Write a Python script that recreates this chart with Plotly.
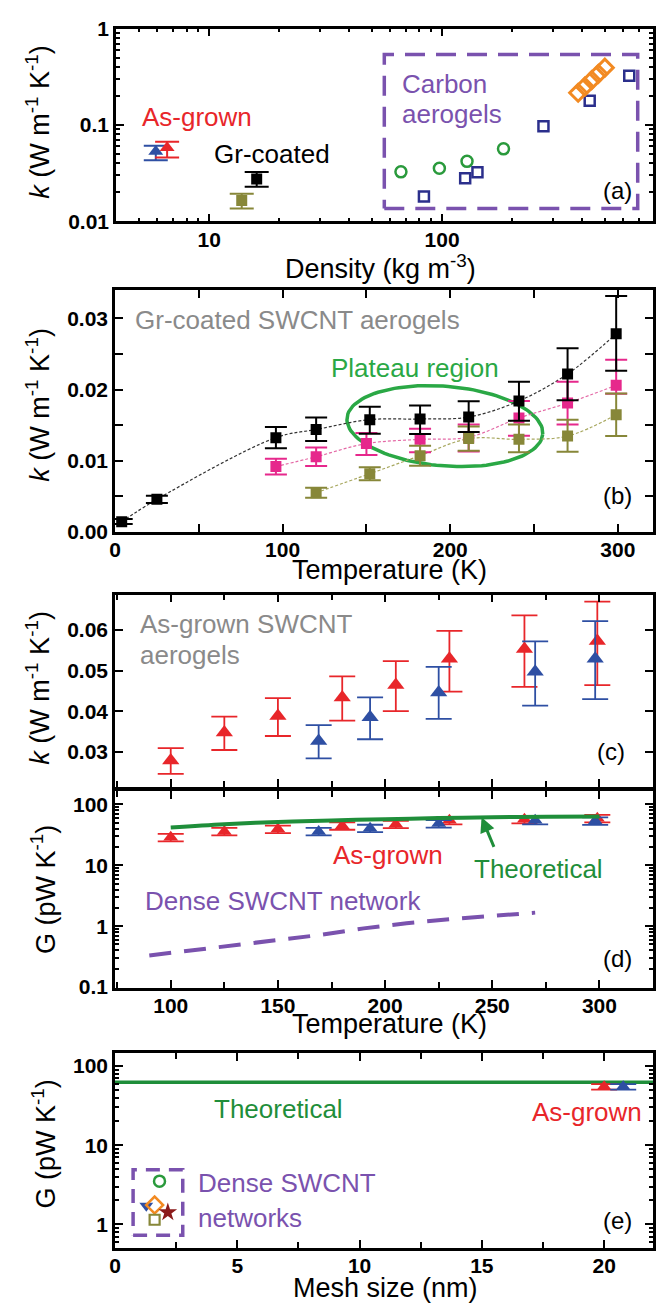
import plotly.graph_objects as go
import numpy as np

W, H = 659, 1314
FONT = "Liberation Sans, Arial, sans-serif"

# ---------------- colours ----------------
RED = "#e8262a"
BLUE = "#2e4fa3"
NAVY = "#2b2f8c"
OLIVE = "#878739"
MAGENTA = "#e6288c"
GREEN_M = "#2a9a3c"
ORANGE = "#f28a22"
PURPLE = "#7a52ae"
GREEN_L = "#1f8e3a"
GREEN_E = "#2aa845"
GRAY = "#8a8a8a"
DARKRED = "#8b1a1a"

# ---------------- data: panel (a) ----------------
a_agblue_rho = [5.9]
a_agblue_k = [0.053]
a_agblue_ep = [0.008]
a_agblue_em = [0.010]
a_agred_rho = [6.6]
a_agred_k = [0.058]
a_agred_ep = [0.009]
a_agred_em = [0.012]
a_grblack_rho = [16.0]
a_grblack_k = [0.0275]
a_grblack_ep = [0.0049]
a_grblack_em = [0.0047]
a_grolive_rho = [13.8]
a_grolive_k = [0.0164]
a_grolive_ep = [0.0029]
a_grolive_em = [0.0028]
a_circ_rho = [66.6, 97.4, 128, 183.6]
a_circ_k = [0.0326, 0.0356, 0.0419, 0.0565]
a_sq_rho = [83.6, 125.7, 141.9, 272.5, 430.5, 636.5]
a_sq_k = [0.0181, 0.0279, 0.0322, 0.097, 0.179, 0.324]
a_dia_rho = [384, 410, 439, 469, 500]
a_dia_k = [0.216, 0.25, 0.292, 0.34, 0.394]
a_box_rho = [56.5, 692]
a_box_k = [0.0136, 0.539]

# ---------------- data: panel (b) ----------------
b_black_T = [4, 25, 96, 120, 152, 182, 211, 241, 270, 299]
b_black_k = [0.0014, 0.00456, 0.01324, 0.01438, 0.01577, 0.01586, 0.01614, 0.0184, 0.0222, 0.02785]
b_black_ep = [0.0004, 0.0005, 0.0015, 0.0017, 0.0018, 0.0019, 0.0022, 0.0027, 0.0036, 0.0053]
b_black_em = [0.0003, 0.0005, 0.0015, 0.0016, 0.0020, 0.0021, 0.0021, 0.0028, 0.0037, 0.0052]
b_mag_T = [96, 120, 150, 182, 211, 241, 270, 299]
b_mag_k = [0.00917, 0.01055, 0.0124, 0.0130, 0.0133, 0.0160, 0.0181, 0.0206]
b_mag_ep = [0.0011, 0.0013, 0.0015, 0.0015, 0.0018, 0.0024, 0.0030, 0.0036]
b_mag_em = [0.0011, 0.0013, 0.0016, 0.0018, 0.0020, 0.0025, 0.0030, 0.0012]
b_olive_T = [120, 152, 182, 211, 241, 270, 299]
b_olive_k = [0.00549, 0.00816, 0.0107, 0.0131, 0.0130, 0.01346, 0.01646]
b_olive_ep = [0.0007, 0.0009, 0.0014, 0.0017, 0.0021, 0.0023, 0.0030]
b_olive_em = [0.0007, 0.0009, 0.0014, 0.0017, 0.0018, 0.0022, 0.0030]
# "Plateau region" ellipse: centre (T, k), half-axes (K, W/mK), tilt (deg)
b_ell_center = (196.8, 0.01486)
b_ell_half = (58.6, 0.0056)
b_ell_tilt_deg = -4.8

# ---------------- data: panel (c) ----------------
c_red_T = [100, 125, 150, 180, 205, 230, 265, 299]
c_red_k = [0.0279, 0.03475, 0.0388, 0.04337, 0.04644, 0.0529, 0.0553, 0.0573]
c_red_ep = [0.0030, 0.0039, 0.0044, 0.0052, 0.0059, 0.0069, 0.0083, 0.0097]
c_red_em = [0.0033, 0.0043, 0.0049, 0.0057, 0.0064, 0.0081, 0.0093, 0.0109]
c_blue_T = [169, 193, 225, 270, 298]
c_blue_k = [0.0327, 0.0385, 0.0446, 0.0497, 0.0529]
c_blue_ep = [0.0039, 0.0049, 0.0063, 0.0075, 0.0093]
c_blue_em = [0.0043, 0.0054, 0.0065, 0.0083, 0.0099]

# ---------------- data: panel (d) ----------------
d_red_T = [100, 125, 150, 180, 205, 230, 265, 299]
d_red_G = [28.9, 36.1, 39.4, 44.7, 47.4, 55.0, 57.1, 59.3]
d_blue_T = [169, 193, 225, 270, 298]
d_blue_G = [36.1, 40.8, 48.6, 55.0, 53.8]
d_theo_T = [100, 125, 150, 175, 200, 225, 250, 275, 300]
d_theo_G = [41.9, 47.5, 51.8, 54.8, 57.2, 59.8, 61.8, 62.8, 63.3]
d_dense_T = [90, 110, 130, 150, 170, 190, 210, 230, 250, 270]
d_dense_G = [0.33, 0.40, 0.49, 0.58, 0.72, 0.92, 1.12, 1.30, 1.47, 1.67]

# ---------------- data: panel (e) ----------------
e_theo_mesh = [0, 22]
e_theo_G = [62.5, 62.5]
e_red_mesh = [20.0]
e_red_G = [54.7]
e_blue_mesh = [20.78]
e_blue_G = [54.7]
e_circ = ([1.82], [3.51])
e_tri = ([1.28], [1.71])
e_dia = ([1.62], [1.75])
e_star = ([2.16], [1.42])
e_sq = ([1.62], [1.14])
e_box_mesh = [0.74, 2.77]
e_box_G = [0.728, 4.9]


def rect(xs, ys):
    return [xs[0], xs[1], xs[1], xs[0], xs[0]], [ys[0], ys[0], ys[1], ys[1], ys[0]]


fig = go.Figure()


def add(xa, ya, **kw):
    kw.setdefault("showlegend", False)
    kw.setdefault("hoverinfo", "skip")
    fig.add_trace(go.Scatter(xaxis=xa, yaxis=ya, **kw))


def errbar(ep, em, color, width=11, thick=2):
    return dict(type="data", array=ep, arrayminus=em, color=color, thickness=thick, width=width, visible=True)


# ---------- panel (a) ----------
bx, by = rect(a_box_rho, a_box_k)
add("x", "y", x=bx, y=by, mode="lines", line=dict(color=PURPLE, width=3.5, dash="20px,11px"))
add("x", "y", x=a_circ_rho, y=a_circ_k, mode="markers",
    marker=dict(symbol="circle-open", size=11, line=dict(width=2.5, color=GREEN_M), color=GREEN_M))
add("x", "y", x=a_sq_rho, y=a_sq_k, mode="markers",
    marker=dict(symbol="square-open", size=10, line=dict(width=2.5, color=NAVY), color=NAVY))
add("x", "y", x=a_dia_rho, y=a_dia_k, mode="markers",
    marker=dict(symbol="diamond-open", size=13, line=dict(width=3, color=ORANGE), color=ORANGE))
add("x", "y", x=a_grolive_rho, y=a_grolive_k, mode="markers",
    marker=dict(symbol="square", size=11, color=OLIVE),
    error_y=errbar(a_grolive_ep, a_grolive_em, OLIVE, 12))
add("x", "y", x=a_grblack_rho, y=a_grblack_k, mode="markers",
    marker=dict(symbol="square", size=11, color="black"),
    error_y=errbar(a_grblack_ep, a_grblack_em, "black", 12))
add("x", "y", x=a_agblue_rho, y=a_agblue_k, mode="markers",
    marker=dict(symbol="triangle-up", size=13, color=BLUE),
    error_y=errbar(a_agblue_ep, a_agblue_em, BLUE, 12))
add("x", "y", x=a_agred_rho, y=a_agred_k, mode="markers",
    marker=dict(symbol="triangle-up", size=13, color=RED),
    error_y=errbar(a_agred_ep, a_agred_em, RED, 12))

# ---------- panel (b) ----------
# tilted ellipse drawn in data units of panel (b); the px-per-unit ratio keeps the tilt visual
_sx = 543 / 321.0      # px per K
_sy = 246 / 0.034      # px per (W/mK)
_t = np.linspace(0, 2 * np.pi, 121)
_a = b_ell_half[0] * _sx
_b = b_ell_half[1] * _sy
_th = np.deg2rad(b_ell_tilt_deg)
_px = _a * np.cos(_t) * np.cos(_th) - _b * np.sin(_t) * np.sin(_th)
_py = _a * np.cos(_t) * np.sin(_th) + _b * np.sin(_t) * np.cos(_th)
ell_T = b_ell_center[0] + _px / _sx
ell_k = b_ell_center[1] + _py / _sy
add("x2", "y2", x=ell_T, y=ell_k, mode="lines", line=dict(color=GREEN_E, width=3.5))

add("x2", "y2", x=b_black_T, y=b_black_k, mode="lines", line=dict(color="#333333", width=1.2, dash="3px,2px", shape="spline"))
add("x2", "y2", x=b_mag_T, y=b_mag_k, mode="lines", line=dict(color="#e46aa6", width=1.2, dash="3px,2px", shape="spline"))
add("x2", "y2", x=b_olive_T, y=b_olive_k, mode="lines", line=dict(color="#a8a860", width=1.2, dash="3px,2px", shape="spline"))
add("x2", "y2", x=b_mag_T, y=b_mag_k, mode="markers",
    marker=dict(symbol="square", size=11, color=MAGENTA),
    error_y=errbar(b_mag_ep, b_mag_em, MAGENTA, 11))
add("x2", "y2", x=b_olive_T, y=b_olive_k, mode="markers",
    marker=dict(symbol="square", size=11, color=OLIVE),
    error_y=errbar(b_olive_ep, b_olive_em, OLIVE, 11))
add("x2", "y2", x=b_black_T, y=b_black_k, mode="markers",
    marker=dict(symbol="square", size=11, color="black"),
    error_y=errbar(b_black_ep, b_black_em, "black", 11))

# ---------- panel (c) ----------
add("x3", "y3", x=c_red_T, y=c_red_k, mode="markers",
    marker=dict(symbol="triangle-up", size=15, color=RED),
    error_y=errbar(c_red_ep, c_red_em, RED, 13, 1.8))
add("x3", "y3", x=c_blue_T, y=c_blue_k, mode="markers",
    marker=dict(symbol="triangle-up", size=15, color=BLUE),
    error_y=errbar(c_blue_ep, c_blue_em, BLUE, 13, 1.8))

# ---------- panel (d) ----------
add("x4", "y4", x=d_dense_T, y=d_dense_G, mode="lines", line=dict(color=PURPLE, width=4, dash="22px,13px"))
add("x4", "y4", x=d_red_T, y=d_red_G, mode="markers",
    marker=dict(symbol="triangle-up", size=13, color=RED),
    error_y=dict(type="percent", value=14, color=RED, thickness=1.8, width=13))
add("x4", "y4", x=d_blue_T, y=d_blue_G, mode="markers",
    marker=dict(symbol="triangle-up", size=13, color=BLUE),
    error_y=dict(type="percent", value=14, color=BLUE, thickness=1.8, width=13))
add("x4", "y4", x=d_theo_T, y=d_theo_G, mode="lines", line=dict(color=GREEN_L, width=4, shape="spline"))

# ---------- panel (e) ----------
ex, ey = rect(e_box_mesh, e_box_G)
add("x5", "y5", x=ex, y=ey, mode="lines", line=dict(color=PURPLE, width=3.5, dash="14px,9px"))
add("x5", "y5", x=e_theo_mesh, y=e_theo_G, mode="lines", line=dict(color=GREEN_L, width=3.5))
add("x5", "y5", x=e_red_mesh, y=e_red_G, mode="markers",
    marker=dict(symbol="triangle-up", size=13, color=RED),
    error_y=dict(type="percent", value=8, color=RED, thickness=1.8, width=13))
add("x5", "y5", x=e_blue_mesh, y=e_blue_G, mode="markers",
    marker=dict(symbol="triangle-up", size=13, color=BLUE),
    error_y=dict(type="percent", value=8, color=BLUE, thickness=1.8, width=13))
add("x5", "y5", x=e_circ[0], y=e_circ[1], mode="markers",
    marker=dict(symbol="circle-open", size=11, line=dict(width=2.5, color=GREEN_M), color=GREEN_M))
add("x5", "y5", x=e_tri[0], y=e_tri[1], mode="markers",
    marker=dict(symbol="triangle-down", size=12, color=BLUE))
add("x5", "y5", x=e_dia[0], y=e_dia[1], mode="markers",
    marker=dict(symbol="diamond-open", size=13, line=dict(width=2.5, color=ORANGE), color=ORANGE))
add("x5", "y5", x=e_star[0], y=e_star[1], mode="markers",
    marker=dict(symbol="star", size=14, color=DARKRED))
add("x5", "y5", x=e_sq[0], y=e_sq[1], mode="markers",
    marker=dict(symbol="square-open", size=10, line=dict(width=2.2, color=OLIVE), color=OLIVE))

# ---------- axes ----------


def axis(domain, anchor, **kw):
    d = dict(domain=domain, anchor=anchor, showline=True, linecolor="black", linewidth=2.5,
             mirror="allticks", ticks="inside", ticklen=8, tickwidth=2, tickcolor="black",
             showgrid=False, zeroline=False, fixedrange=True,
             tickfont=dict(family=FONT, size=21, color="black", weight=700))
    d.update(kw)
    return d


def minor(dt, ln=4):
    return dict(ticks="inside", ticklen=ln, tickwidth=2, tickcolor="black", dtick=dt, showgrid=False)


XD = [110 / W, 653 / W]


def yd(top, bot):
    return [1 - bot / H, 1 - top / H]


fig.update_layout(
    xaxis=axis([111 / W, 653 / W], "y", type="log", range=[0.6, 2.906],
               tickvals=[10, 100], ticktext=["10", "100"], minor=minor("D1"), ticklabelstandoff=-2),
    yaxis=axis(yd(17, 213), "x", type="log", range=[-2, 0],
               tickvals=[0.01, 0.1, 1], ticktext=["0.01", "0.1", "1"], minor=minor("D1")),
    xaxis2=axis(XD, "y2", range=[0, 321], tickvals=[0, 100, 200, 300], minor=minor(50, 8),
                ticklabelstandoff=-3),
    yaxis2=axis(yd(283, 529), "x2", range=[0, 0.034], tickvals=[0, 0.01, 0.02, 0.03],
                ticktext=["0.00", "0.01", "0.02", "0.03"], minor=minor(0.005, 8)),
    xaxis3=axis(XD, "y3", range=[74, 325], tickvals=[100, 150, 200, 250, 300],
                showticklabels=False, minor=minor(25, 6)),
    yaxis3=axis(yd(593, 789), "x3", range=[0.0213, 0.0687], tickvals=[0.03, 0.04, 0.05, 0.06],
                ticktext=["0.03", "0.04", "0.05", "0.06"]),
    xaxis4=axis(XD, "y4", range=[74, 325], tickvals=[100, 150, 200, 250, 300], minor=minor(25, 6),
                ticklabelstandoff=-3),
    yaxis4=axis(yd(793, 993), "x4", type="log", range=[-1.01, 2.22],
                tickvals=[0.1, 1, 10, 100], ticktext=["0.1", "1", "10", "100"], minor=minor("D1")),
    xaxis5=axis(XD, "y5", range=[0, 22], tickvals=[0, 5, 10, 15, 20], minor=minor(2.5, 6),
                ticklabelstandoff=-3),
    yaxis5=axis(yd(1060, 1258), "x5", type="log", range=[-0.3, 2.16],
                tickvals=[1, 10, 100], ticktext=["1", "10", "100"], minor=minor("D1")),
)


def txt(x, y, s, color, size=26, xanchor="left", angle=0):
    fig.add_annotation(x=x / W, y=1 - y / H, xref="paper", yref="paper", text=s, showarrow=False,
                       xanchor=xanchor, yanchor="middle", textangle=angle,
                       font=dict(family=FONT, size=size, color=color))


KT = "<i>k</i> (W m<sup>-1</sup> K<sup>-1</sup>)"
GT = "G (pW K<sup>-1</sup>)"

# axis titles
txt(32, 112, KT, "black", 27, "center", -90)
txt(32, 400, KT, "black", 27, "center", -90)
txt(32, 688, KT, "black", 27, "center", -90)
txt(38, 893, GT, "black", 27, "center", -90)
txt(38, 1152, GT, "black", 27, "center", -90)
txt(378, 260, "Density (kg m<sup>-3</sup>)", "black", 27, "center")
txt(387, 568, "Temperature (K)", "black", 27, "center")
txt(387, 1030, "Temperature (K)", "black", 27, "center")
txt(383, 1299, "Mesh size (nm)", "black", 27, "center")

# panel (a)
txt(135, 107, "As-grown", RED)
txt(208, 145, "Gr-coated", "black")
txt(398, 73, "Carbon", PURPLE)
txt(398, 104, "aerogels", PURPLE)
txt(634, 182, "(a)", "black", 24, "right")
# panel (b)
txt(128, 313, "Gr-coated SWCNT aerogels", GRAY)
txt(326, 362, "Plateau region", GREEN_E)
txt(634, 492, "(b)", "black", 24, "right")
# panel (c)
txt(133, 623, "As-grown SWCNT", GRAY)
txt(133, 654, "aerogels", GRAY)
txt(627, 753, "(c)", "black", 24, "right")
# panel (d)
txt(328, 858, "As-grown", RED)
txt(470, 872, "Theoretical", GREEN_L)
txt(138, 905, "Dense SWCNT network", PURPLE)
txt(634, 963, "(d)", "black", 24, "right")
fig.add_annotation(x=245, y=np.log10(61.5), xref="x4", yref="y4", text="", showarrow=True,
                   ax=13, ay=31, arrowhead=2, arrowsize=1, arrowwidth=3, arrowcolor=GREEN_L)
# panel (e)
txt(208, 1117, "Theoretical", GREEN_L)
txt(644, 1120, "As-grown", RED, 26, "right")
txt(192, 1192, "Dense SWCNT", PURPLE)
txt(192, 1227, "networks", PURPLE)
txt(634, 1230, "(e)", "black", 24, "right")

fig.update_layout(width=W, height=H, margin=dict(l=0, r=0, t=0, b=0),
                  font=dict(family=FONT, size=21, color="black"),
                  paper_bgcolor="white", plot_bgcolor="white", showlegend=False)

fig.write_html("out.html", config={"displayModeBar": False},
               post_script="document.body.style.margin='0px';")
